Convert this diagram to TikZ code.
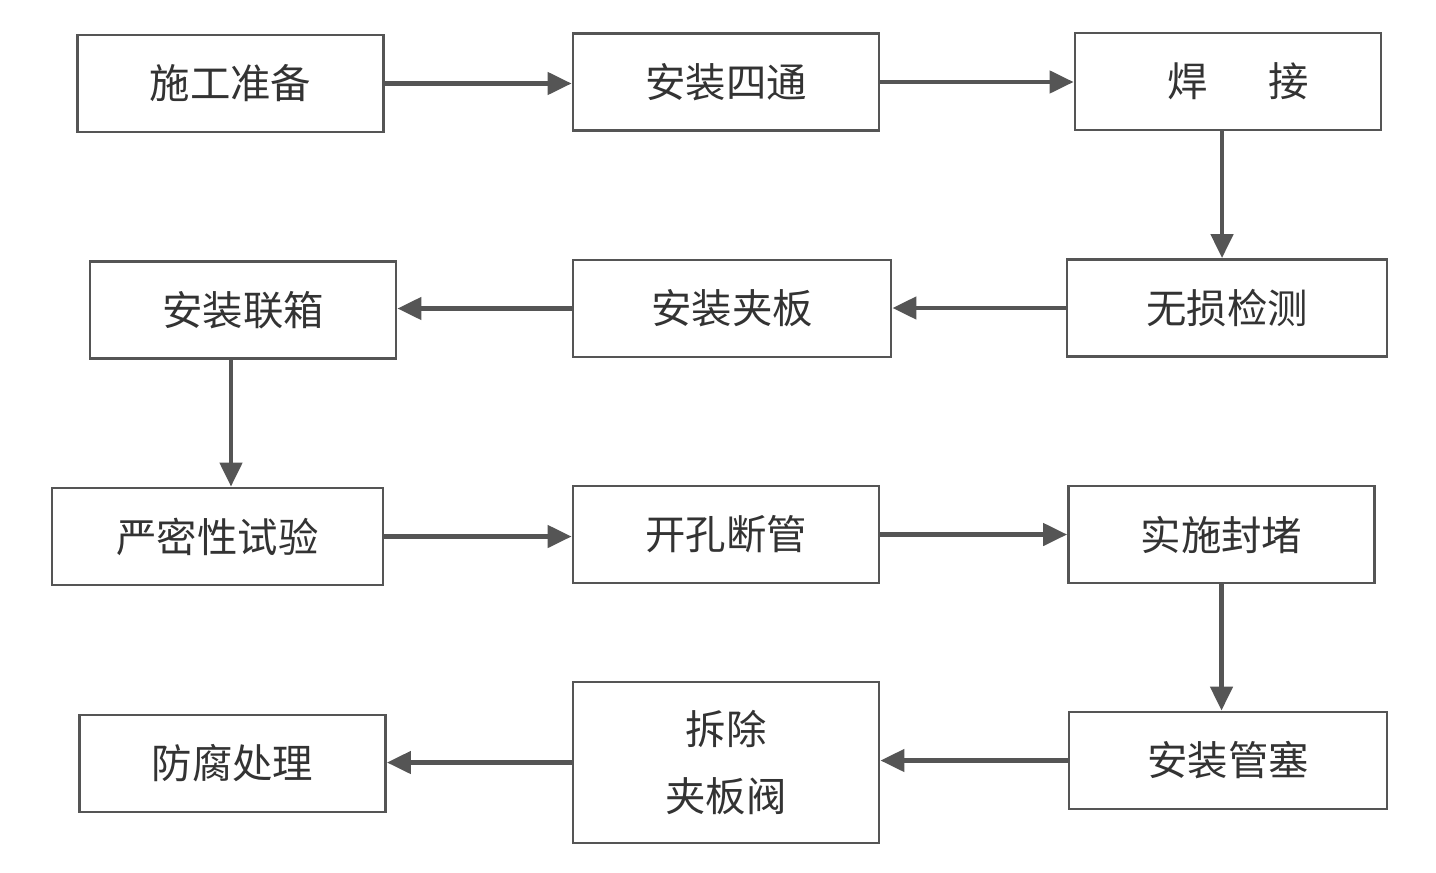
\documentclass[tikz,border=0pt]{standalone}
\usepackage{fontspec}
\setmainfont{Noto Sans CJK SC}
\usetikzlibrary{arrows.meta, positioning, calc}
\definecolor{boxgray}{HTML}{555555}
\definecolor{textgray}{HTML}{333333}

\begin{document}
\begin{tikzpicture}[
  step box/.style={rectangle, draw=boxgray, fill=white, line width=0.8pt, minimum width=3.06cm, minimum height=0.97cm, align=center, text=textgray, font=\fontsize{11.5}{19}\selectfont},
  arrow/.style={-{Triangle[length=2.4mm, width=2.2mm]}, line width=1.3pt, draw=boxgray}
]
  \useasboundingbox (0,0) rectangle (14.36,-8.72);

  % row 1
  \node[step box] (zhunbei) at (2.305,-0.835) {施工准备};
  \node[step box] (sitong) at (7.26,-0.82) {安装四通};
  \node[step box] (hanjie) at (12.28,-0.815) {\hspace{0.5em}焊\hspace{1.5em}接};
  % row 2
  \node[step box] (lianxiang) at (2.43,-3.10) {安装联箱};
  \node[step box, minimum width=3.18cm] (jiaban) at (7.32,-3.085) {安装夹板};
  \node[step box, minimum width=3.2cm] (jiance) at (12.27,-3.08) {无损检测};
  % row 3
  \node[step box, minimum width=3.31cm] (shiyan) at (2.175,-5.365) {严密性试验};
  \node[step box] (kaikong) at (7.26,-5.345) {开孔断管};
  \node[step box] (fengdu) at (12.215,-5.345) {实施封堵};
  % row 4
  \node[step box] (fangfu) at (2.325,-7.635) {防腐处理};
  \node[step box, minimum height=1.61cm] (chaichu) at (7.26,-7.625) {拆除\\夹板阀};
  \node[step box, minimum width=3.18cm] (guansai) at (12.28,-7.605) {安装管塞};

  \draw[arrow] (zhunbei) -- (zhunbei -| sitong.west);
  \draw[arrow] (sitong) -- (sitong -| hanjie.west);
  \draw[arrow] ([xshift=-0.6mm]hanjie.south) -- ([xshift=-0.6mm]hanjie.south |- jiance.north);
  \draw[arrow] (jiance) -- (jiance -| jiaban.east);
  \draw[arrow] (jiaban) -- (jiaban -| lianxiang.east);
  \draw[arrow] ([xshift=-1.2mm]lianxiang.south) -- ([xshift=-1.2mm]lianxiang.south |- shiyan.north);
  \draw[arrow] (shiyan) -- (shiyan -| kaikong.west);
  \draw[arrow] (kaikong) -- (kaikong -| fengdu.west);
  \draw[arrow] (fengdu.south) -- (fengdu.south |- guansai.north);
  \draw[arrow] (guansai) -- (guansai -| chaichu.east);
  \draw[arrow] (chaichu.west) -- (chaichu.west -| fangfu.east);
\end{tikzpicture}
\end{document}
